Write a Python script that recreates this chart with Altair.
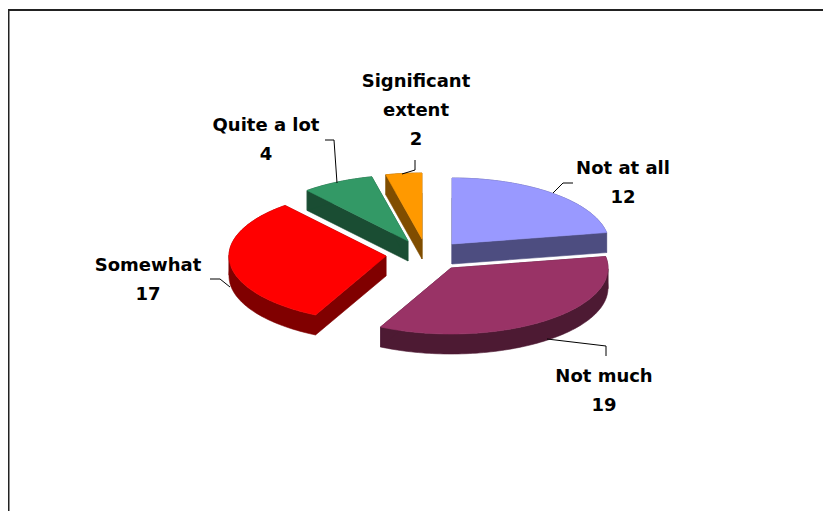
import math
import altair as alt

# Data
categories = ["Not at all", "Not much", "Somewhat", "Quite a lot", "Significant extent"]
values = [12, 19, 17, 4, 2]
top_colors = ["#9999FF", "#993366", "#FF0000", "#339966", "#FF9900"]
side_colors = ["#4D4D80", "#4D1A33", "#800000", "#1A4D33", "#804D00"]

# Layout of the exploded 3D pie (page pixels)
apex_x = [452, 451, 386, 408, 422]
apex_y = [244, 268, 256, 241, 239]
RX, RY, DEPTH = 157, 66, 20
draw_order = [4, 3, 0, 2, 1]

label_x = [623, 604, 148, 266, 416]
label_lines = [["Not at all"], ["Not much"], ["Somewhat"], ["Quite a lot"], ["Significant", "extent"]]
label_base = [174, 382, 271, 131, 87]
LINE_H = 29
FONT = "DejaVu Sans"
FONT_SIZE = 18

leaders = [
    [[553, 193], [563, 183], [573, 183]],
    [[547, 339], [606, 346], [606, 356]],
    [[210, 279], [220, 279], [230, 287]],
    [[325, 140], [334, 140], [337, 183]],
    [[402, 174], [415, 170], [415, 160]],
]
frame = [[8.5, 519], [8.5, 10], [831, 10]]

total = sum(values)
features = []
start = 0.0
polys = {}
for i, v in enumerate(values):
    end = start + v / total * 2 * math.pi
    n = max(4, int(v * 5))
    pts = [[apex_x[i], apex_y[i]]]
    for k in range(n + 1):
        a = start + (end - start) * k / n
        pts.append([apex_x[i] + RX * math.sin(a), apex_y[i] - RY * math.cos(a)])
    polys[i] = pts
    start = end


def oriented(poly):
    area = sum(a[0] * b[1] - b[0] * a[1] for a, b in zip(poly[:-1], poly[1:]))
    return poly if area > 0 else poly[::-1]


def wall_runs(ring):
    """Split the outline into runs that keep one x direction, so no wall folds over itself."""
    runs, cur, sign = [], [ring[0]], 0
    for p, q in zip(ring[:-1], ring[1:]):
        s = (q[0] > p[0]) - (q[0] < p[0])
        if sign and s and s != sign:
            runs.append(cur)
            cur = [p]
        sign = s or sign
        cur.append(q)
    runs.append(cur)
    return runs


for i in draw_order:
    pts = polys[i]
    ring = pts + [pts[0]]
    walls = []
    for run in wall_runs(ring):
        shifted = [[p[0], p[1] + DEPTH] for p in run]
        walls.append([oriented(run + shifted[::-1] + [run[0]])])
    features.append({"type": "Feature",
                     "properties": {"fill": side_colors[i], "name": categories[i] + " side"},
                     "geometry": {"type": "MultiPolygon", "coordinates": walls}})
    features.append({"type": "Feature",
                     "properties": {"fill": top_colors[i], "name": categories[i]},
                     "geometry": {"type": "Polygon", "coordinates": [ring]}})

projection = alt.Projection(type="identity", scale=1, translate=[-8, -8])

pie = alt.Chart(alt.Data(values=features)).mark_geoshape(strokeWidth=0.6).encode(
    fill=alt.Fill("properties.fill:N", scale=None),
    stroke=alt.Stroke("properties.fill:N", scale=None),
).project(**projection.to_dict())

line_features = [{"type": "Feature", "properties": {"w": 1},
                  "geometry": {"type": "LineString", "coordinates": c}} for c in leaders]
lines = alt.Chart(alt.Data(values=line_features)).mark_geoshape(
    filled=False, stroke="#000000", strokeWidth=1
).project(**projection.to_dict())

frame_line = alt.Chart(alt.Data(values=[{"type": "Feature", "properties": {"w": 2},
                                         "geometry": {"type": "LineString", "coordinates": frame}}])).mark_geoshape(
    filled=False, stroke="#222222", strokeWidth=2
).project(**projection.to_dict())

rows = []
for i, cat in enumerate(categories):
    ls = label_lines[i] + [str(values[i])]
    for j, t in enumerate(ls):
        rows.append({"t": t, "x": label_x[i] - 8, "y": label_base[i] + j * LINE_H - 8})

text = alt.Chart(alt.Data(values=rows)).mark_text(
    font=FONT, fontWeight="bold", fontSize=FONT_SIZE, color="#000000", align="center", baseline="alphabetic"
).encode(
    x=alt.X("x:Q", scale=None, axis=None),
    y=alt.Y("y:Q", scale=None, axis=None),
    text="t:N",
)

chart = alt.layer(frame_line, pie, lines, text).properties(
    width=815, height=503, padding=0, autosize=alt.AutoSizeParams(type="none")
).configure_view(stroke=None)

chart.save("out.html", embed_options={"renderer": "svg", "actions": False})
